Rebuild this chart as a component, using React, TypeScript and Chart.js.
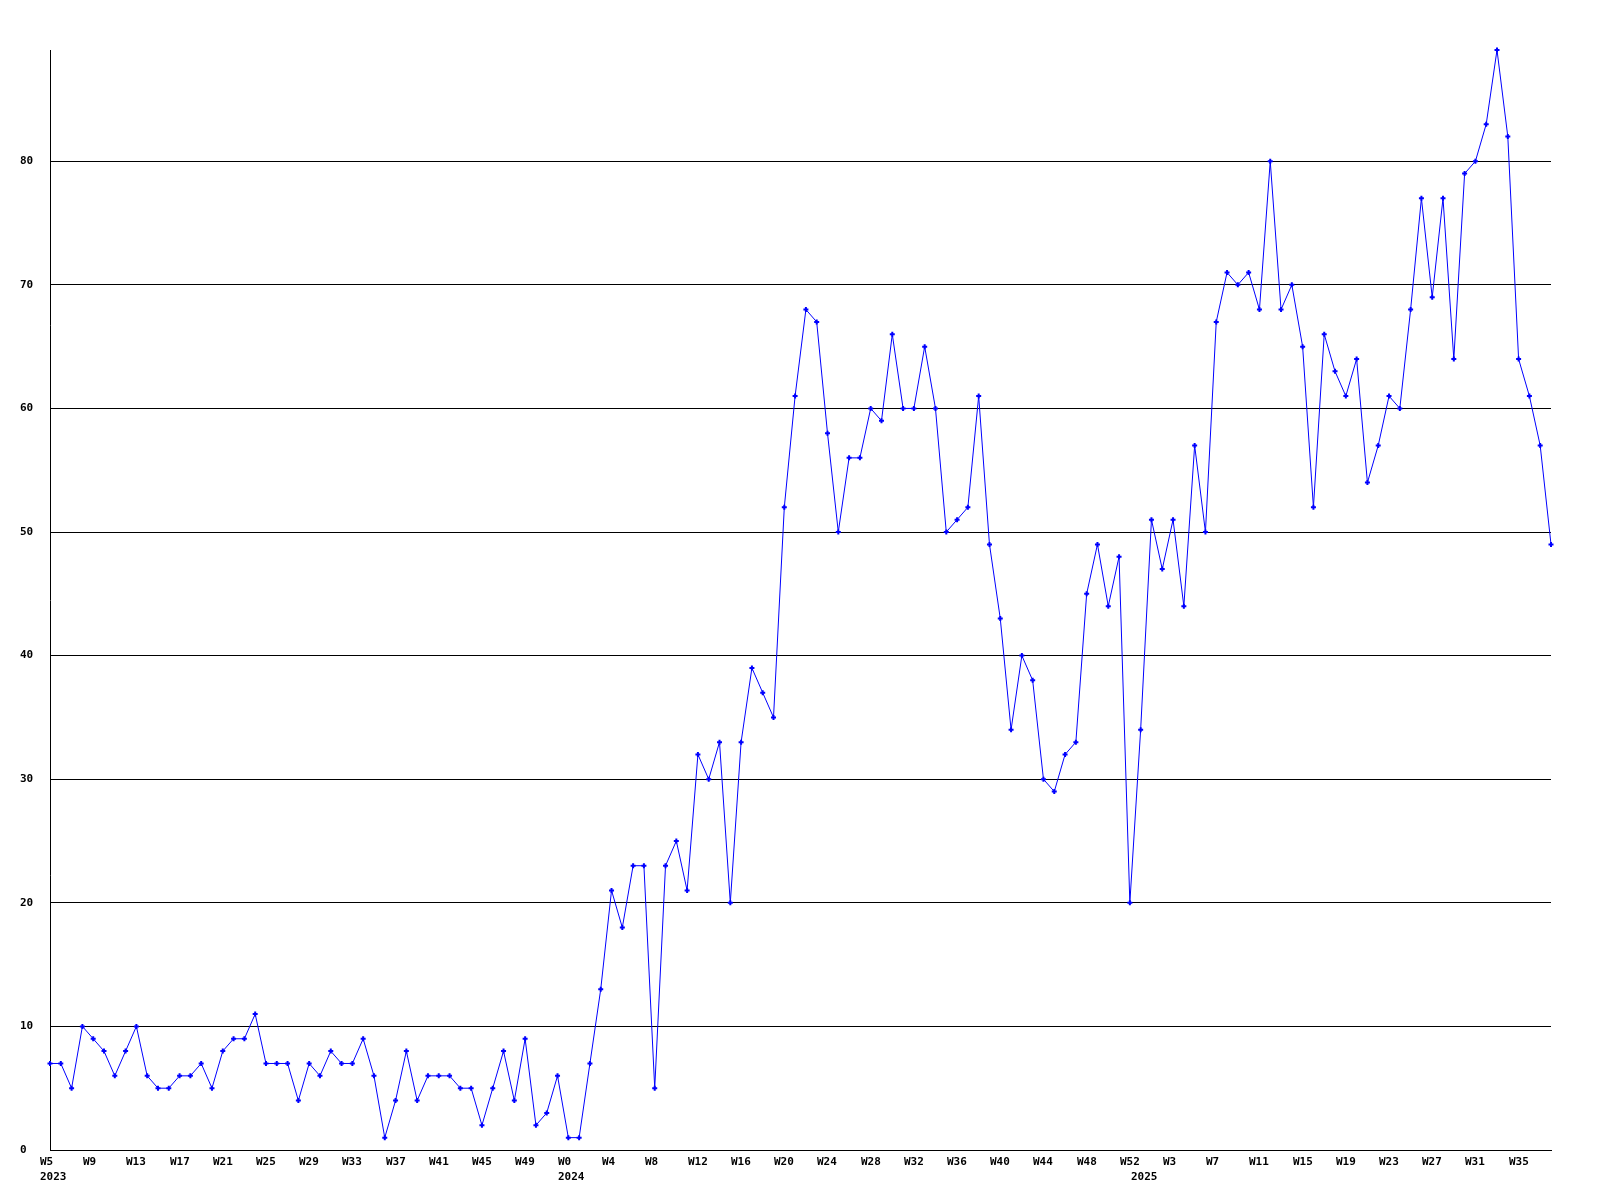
import React, { useEffect, useRef } from "react";
import { Chart, registerables } from "chart.js";

Chart.register(...registerables);

// Weeks: 2023 W5..W52, 2024 W0..W52, 2025 W0..W38
const weeks2023: number[] = [];
for (let w = 5; w <= 52; w++) weeks2023.push(w);
const weeks2024: number[] = [];
for (let w = 0; w <= 52; w++) weeks2024.push(w);
const weeks2025: number[] = [];
for (let w = 0; w <= 38; w++) weeks2025.push(w);

const categories: string[] = [
  ...weeks2023.map((w) => `2023-W${w}`),
  ...weeks2024.map((w) => `2024-W${w}`),
  ...weeks2025.map((w) => `2025-W${w}`),
];

const values: number[] = [
  // 2023 W5..W52
  7, 7, 5, 10, 9, 8, 6, 8, 10, 6, 5, 5, 6, 6, 7, 5, 8, 9, 9, 11,
  7, 7, 7, 4, 7, 6, 8, 7, 7, 9, 6, 1, 4, 8, 4, 6, 6, 6, 5, 5,
  2, 5, 8, 4, 9, 2, 3, 6,
  // 2024 W0..W52
  1, 1, 7, 13, 21, 18, 23, 23, 5, 23, 25, 21, 32, 30, 33, 20, 33, 39, 37, 35,
  52, 61, 68, 67, 58, 50, 56, 56, 60, 59, 66, 60, 60, 65, 60, 50, 51, 52, 61, 49,
  43, 34, 40, 38, 30, 29, 32, 33, 45, 49, 44, 48, 20,
  // 2025 W0..W38
  34, 51, 47, 51, 44, 57, 50, 67, 71, 70, 71, 68, 80, 68, 70, 65, 52, 66, 63, 61,
  64, 54, 57, 61, 60, 68, 77, 69, 77, 64, 79, 80, 83, 89, 82, 64, 61, 57, 49,
];

// x tick labels every 4 weeks, starting at index 0
const xTickStep = 4;
const xTickLabels: string[] = [
  "W5", "W9", "W13", "W17", "W21", "W25", "W29", "W33", "W37", "W41", "W45", "W49",
  "W0", "W4", "W8", "W12", "W16", "W20", "W24", "W28", "W32", "W36", "W40", "W44", "W48", "W52",
  "W3", "W7", "W11", "W15", "W19", "W23", "W27", "W31", "W35",
];
const yearTickIndex: number[] = [0, 48, 101];
const yearTickText: string[] = ["2023", "2024", "2025"];

const yMax = 89;
const yStep = 10;

const FONT = '"DejaVu Sans Mono", "Liberation Mono", monospace';

const xLabelsPlugin = {
  id: "xLabels",
  afterDraw(chart: any) {
    const { ctx, chartArea } = chart;
    const xs = chart.scales.x;
    ctx.save();
    ctx.font = `bold 11px ${FONT}`;
    ctx.fillStyle = "#000";
    ctx.textAlign = "left";
    ctx.textBaseline = "middle";
    xTickLabels.forEach((t, k) => {
      const px = xs.getPixelForValue(k * xTickStep);
      ctx.fillText(t, Math.round(px - 10), chartArea.bottom + 12);
    });
    yearTickIndex.forEach((idx, k) => {
      const px = xs.getPixelForValue(idx);
      ctx.fillText(yearTickText[k], Math.round(px - 10), chartArea.bottom + 27);
    });
    ctx.restore();
  },
};

export default function App() {
  const ref = useRef<HTMLCanvasElement | null>(null);

  useEffect(() => {
    if (!ref.current) return;
    const chart = new Chart(ref.current, {
      type: "line",
      data: {
        labels: categories,
        datasets: [
          {
            data: values,
            borderColor: "#0000ff",
            backgroundColor: "#0000ff",
            borderWidth: 1,
            pointStyle: "cross",
            pointRadius: 2.5,
            pointBackgroundColor: "#0000ff",
            pointBorderColor: "#0000ff",
            pointBorderWidth: 2,
            tension: 0,
            fill: false,
            clip: false,
          },
        ],
      },
      options: {
        animation: false,
        responsive: false,
        devicePixelRatio: 1,
        layout: { padding: { left: 20, top: 50, right: 49, bottom: 50 } },
        plugins: {
          legend: { display: false },
          tooltip: { enabled: false },
          title: { display: false },
        },
        scales: {
          x: {
            type: "category",
            offset: false,
            ticks: { display: false },
            grid: { display: false, drawTicks: false },
            border: { display: true, color: "#000", width: 1 },
            afterFit: (s: any) => {
              s.height = 0;
            },
          },
          y: {
            min: 0,
            max: yMax,
            ticks: {
              stepSize: yStep,
              includeBounds: false,
              color: "#000",
              font: { family: FONT, size: 11, weight: "bold" },
              crossAlign: "far",
              padding: 0,
            },
            grid: { color: "#000", lineWidth: 1, drawTicks: false },
            border: { display: true, color: "#000", width: 1 },
            afterFit: (s: any) => {
              s.width = 30;
            },
          },
        },
      },
      plugins: [xLabelsPlugin],
    });
    return () => chart.destroy();
  }, []);

  return (
    <div style={{ position: "absolute", left: 0, top: 0, width: 1600, height: 1200, background: "#fff" }}>
      <canvas ref={ref} width={1600} height={1200} style={{ width: 1600, height: 1200, display: "block" }} />
    </div>
  );
}
